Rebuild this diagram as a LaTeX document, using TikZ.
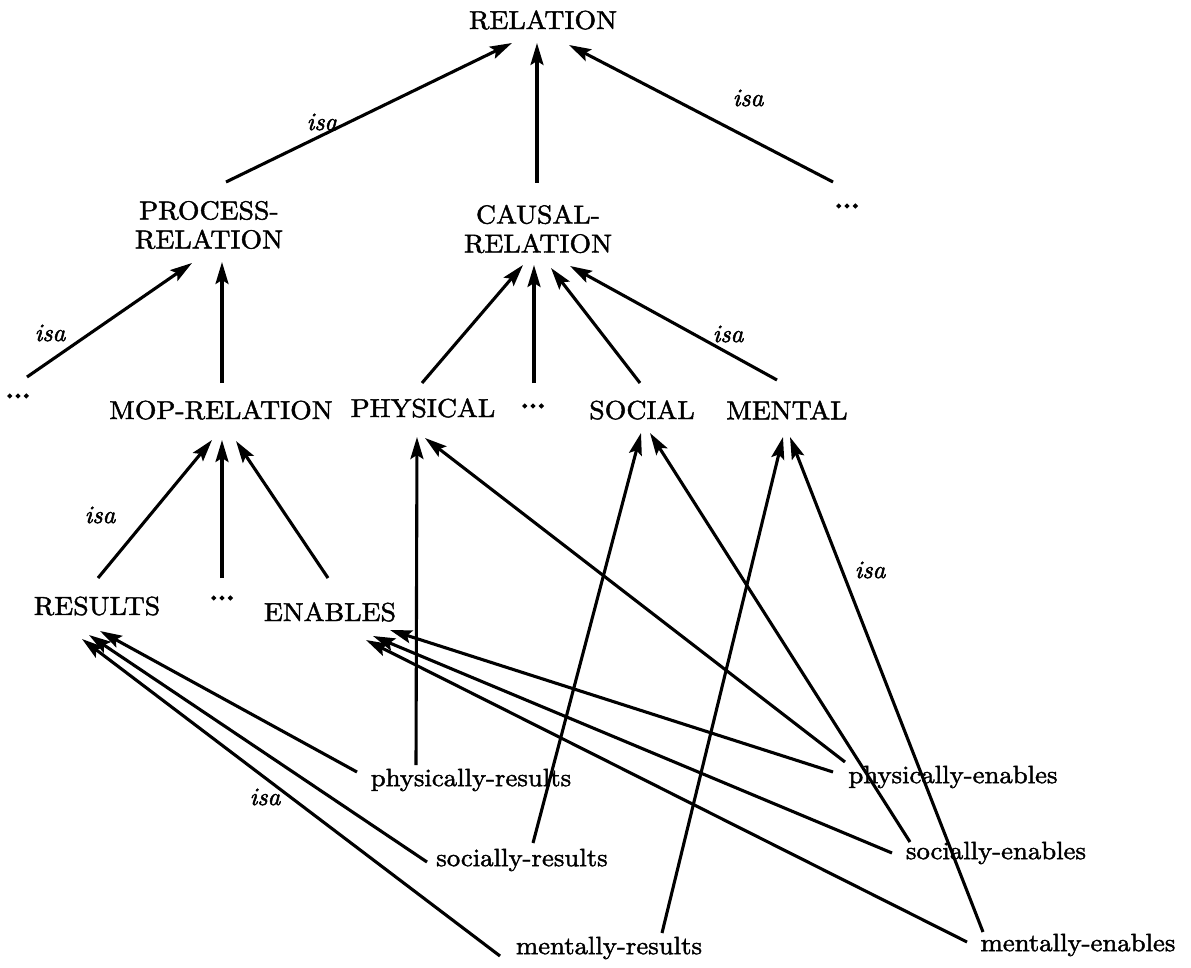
\documentclass[tikz,border=0pt]{standalone}
\usepackage{fontspec}
\usetikzlibrary{arrows.meta}

% heavier, slightly wider Latin Modern for the labels
\newfontfamily\lblfont{lmroman10-regular.otf}[FakeBold=1.7,FakeStretch=1.07]
\newfontfamily\dotfont{lmroman10-regular.otf}[FakeBold=5]
\newfontfamily\lblitfont{lmroman10-italic.otf}[FakeBold=2]

\tikzset{
  concept/.style={inner sep=0pt, anchor=center, align=center,
    font=\lblfont\fontsize{26}{29}\selectfont},
  relname/.style={inner sep=0pt, anchor=center,
    font=\lblfont\fontsize{25}{29}\selectfont},
  more/.style={inner sep=0pt, anchor=center,
    font=\dotfont\fontsize{30}{29}\selectfont},
  isalabel/.style={inner sep=0pt, anchor=center,
    font=\lblitfont\fontsize{25}{28}\selectfont},
  arr/.style={line width=3.1pt, -{Stealth[length=22pt,width=13pt,inset=4pt]}},
}

\begin{document}
\begin{tikzpicture}[x=1pt,y=-1pt]
\useasboundingbox (0,0) rectangle (1191,968);

% concepts
\node[concept] (rel)   at (543,20)  {RELATION};
\node[concept] (proc)  at (209,225) {PROCESS-\\RELATION};
\node[concept] (caus)  at (538,229) {CAUSAL-\\RELATION};
\node[more]    (dotsA) at (847,206) {...};
\node[more]    (dotsL) at (18,396)  {...};
\node[concept] (mop)   at (221,410) {MOP-RELATION};
\node[concept] (phys)  at (423,408) {PHYSICAL};
\node[more]    (dotsM) at (533,406) {...};
\node[concept] (soc)   at (642,410) {SOCIAL};
\node[concept] (men)   at (787,410) {MENTAL};
\node[concept] (res)   at (97,606)  {RESULTS};
\node[more]    (dotsR) at (222,598) {...};
\node[concept] (ena)   at (330,612) {ENABLES};

% relation names
\node[relname] (pres) at (471,780)  {physically-results};
\node[relname] (sres) at (522,860)  {socially-results};
\node[relname] (mres) at (609,948)  {mentally-results};
\node[relname] (pena) at (953,777)  {physically-enables};
\node[relname] (sena) at (996,853)  {socially-enables};
\node[relname] (mena) at (1078,945) {mentally-enables};

% isa labels
\node[isalabel] (isa1) at (322,122) {isa};
\node[isalabel] (isa2) at (748,98)  {isa};
\node[isalabel] (isa3) at (50,333)  {isa};
\node[isalabel] (isa4) at (728,334) {isa};
\node[isalabel] (isa5) at (100,515) {isa};
\node[isalabel] (isa6) at (870,570) {isa};
\node[isalabel] (isa7) at (265,797) {isa};

% upper hierarchy
\draw[arr] ([shift={(17,-43)}]proc.center)  -- ([shift={(-31,23)}]rel.center);
\draw[arr] ([shift={(-1,-46)}]caus.center)  -- ([shift={(-6,23)}]rel.center);
\draw[arr] ([shift={(-14,-24)}]dotsA.center) -- ([shift={(26,25)}]rel.center);

\draw[arr] ([shift={(9,-19)}]dotsL.center)  -- ([shift={(-17,38)}]proc.center);
\draw[arr] ([shift={(1,-27)}]mop.center)    -- ([shift={(13,37)}]proc.center);

\draw[arr] ([shift={(-1,-25)}]phys.center)  -- ([shift={(-15,36)}]caus.center);
\draw[arr] ([shift={(1,-23)}]dotsM.center)  -- ([shift={(-4,36)}]caus.center);
\draw[arr] ([shift={(-2,-27)}]soc.center)   -- ([shift={(13,39)}]caus.center);
\draw[arr] ([shift={(-10,-30)}]men.center)  -- ([shift={(32,37)}]caus.center);

\draw[arr] ([shift={(1,-28)}]res.center)    -- ([shift={(-9,30)}]mop.center);
\draw[arr] ([shift={(0,-20)}]dotsR.center)  -- ([shift={(1,30)}]mop.center);
\draw[arr] ([shift={(-2,-34)}]ena.center)   -- ([shift={(15,31)}]mop.center);

% results relations
\draw[arr] ([shift={(-114,-8)}]pres.center) -- ([shift={(3,25)}]res.center);
\draw[arr] ([shift={(-55,-15)}]pres.center) -- ([shift={(-6,29)}]phys.center);
\draw[arr] ([shift={(-95,2)}]sres.center)   -- ([shift={(-8,29)}]res.center);
\draw[arr] ([shift={(11,-17)}]sres.center)  -- ([shift={(-1,23)}]soc.center);
\draw[arr] ([shift={(-109,8)}]mres.center)  -- ([shift={(-15,33)}]res.center);
\draw[arr] ([shift={(53,-15)}]mres.center)  -- ([shift={(-4,27)}]men.center);

% enables relations
\draw[arr] ([shift={(-120,-5)}]pena.center) -- ([shift={(60,18)}]ena.center);
\draw[arr] ([shift={(-108,-15)}]pena.center) -- ([shift={(2,30)}]phys.center);
\draw[arr] ([shift={(-104,0)}]sena.center)  -- ([shift={(43,24)}]ena.center);
\draw[arr] ([shift={(-86,-11)}]sena.center) -- ([shift={(8,23)}]soc.center);
\draw[arr] ([shift={(-111,-3)}]mena.center) -- ([shift={(36,28)}]ena.center);
\draw[arr] ([shift={(-95,-13)}]mena.center) -- ([shift={(3,27)}]men.center);
\end{tikzpicture}
\end{document}
